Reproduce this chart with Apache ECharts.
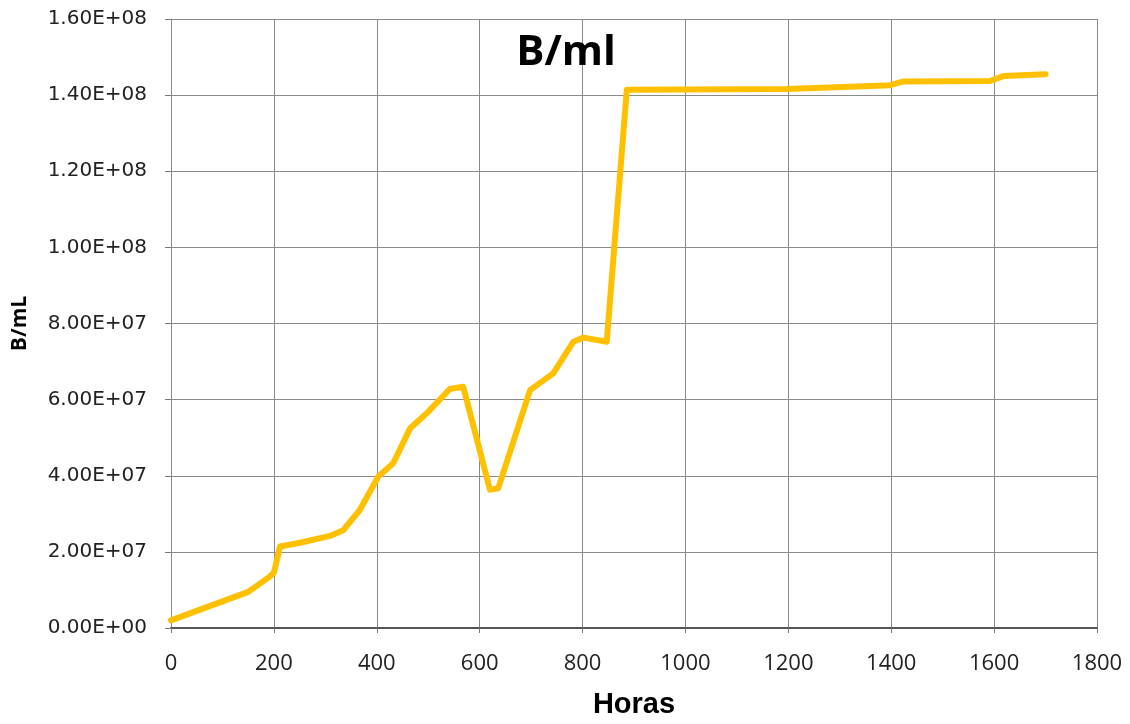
<!DOCTYPE html>
<html><head><meta charset="utf-8">
<script src="https://cdn.jsdelivr.net/npm/echarts@6/dist/echarts.min.js"></script>
<style>html,body{margin:0;padding:0;background:#fff}#c{width:1130px;height:724px}</style>
</head><body><div id="c"></div>
<script>
const horas = [0, 150, 192, 200, 212, 251, 309, 335, 367, 403, 432, 465, 497, 542, 568, 620, 636, 698, 743, 782, 802, 847, 886, 1000, 1197, 1320, 1398, 1424, 1592, 1618, 1700];
const bml = [2.0e6, 9.5e6, 13.5e6, 14.5e6, 21.4e6, 22.4e6, 24.2e6, 25.7e6, 31e6, 39.8e6, 43.3e6, 52.5e6, 56.4e6, 62.8e6, 63.4e6, 36.3e6, 36.7e6, 62.5e6, 66.9e6, 75.2e6, 76.3e6, 75.2e6, 141.4e6, 141.5e6, 141.6e6, 142.2e6, 142.6e6, 143.6e6, 143.7e6, 145.0e6, 145.5e6];
const titleText = 'B/ml';
const xName = 'Horas';
const yName = 'B/mL';

function sci(v){
  if (v === 0) return '0.00E+00';
  const e = Math.floor(Math.log10(Math.abs(v)));
  const m = v / Math.pow(10, e);
  return m.toFixed(2) + 'E+' + String(e).padStart(2, '0');
}

const chart = echarts.init(document.getElementById('c'));
chart.setOption({
  animation: false,
  backgroundColor: '#fff',
  title: {
    text: titleText, left: 561, top: 27, textAlign: 'center',
    textStyle: { fontFamily: 'Open Sans', fontWeight: 'bold', fontSize: 42, color: '#000' }
  },
  grid: { left: 171, right: 33, top: 19, bottom: 96, containLabel: false, outerBoundsMode: 'none' },
  xAxis: {
    type: 'value', min: 0, max: 1800, interval: 200,
    name: xName, nameLocation: 'middle', nameGap: 62,
    nameTextStyle: { fontFamily: 'Liberation Sans', fontWeight: 'bold', fontSize: 29, color: '#000' },
    axisLine: { show: true, lineStyle: { color: '#555', width: 2 } },
    axisTick: { show: true, length: 5, lineStyle: { color: '#777' } },
    axisLabel: { fontFamily: 'Open Sans', fontSize: 22, color: '#222', margin: 25, formatter: v => String(v) },
    splitLine: { show: true, lineStyle: { color: '#8a8a8a', width: 1 } }
  },
  yAxis: {
    type: 'value', min: 0, max: 1.6e8, interval: 2e7,
    name: yName, nameLocation: 'middle', nameGap: 140, nameRotate: 90,
    nameTextStyle: { fontFamily: 'Open Sans', fontWeight: 'bold', fontSize: 21, color: '#000' },
    axisLine: { show: true, lineStyle: { color: '#8a8a8a', width: 1 } },
    axisTick: { show: true, length: 6, lineStyle: { color: '#777' } },
    axisLabel: { fontFamily: 'DejaVu Sans', fontSize: 20, color: '#222', margin: 24, formatter: sci },
    splitLine: { show: true, lineStyle: { color: '#8a8a8a', width: 1 } }
  },
  series: [{
    type: 'line',
    data: horas.map((h, i) => [h, bml[i]]),
    showSymbol: false,
    symbol: 'none',
    lineStyle: { color: '#FFC000', width: 6, join: 'round', cap: 'round' },
    itemStyle: { color: '#FFC000' }
  }]
});
</script></body></html>
